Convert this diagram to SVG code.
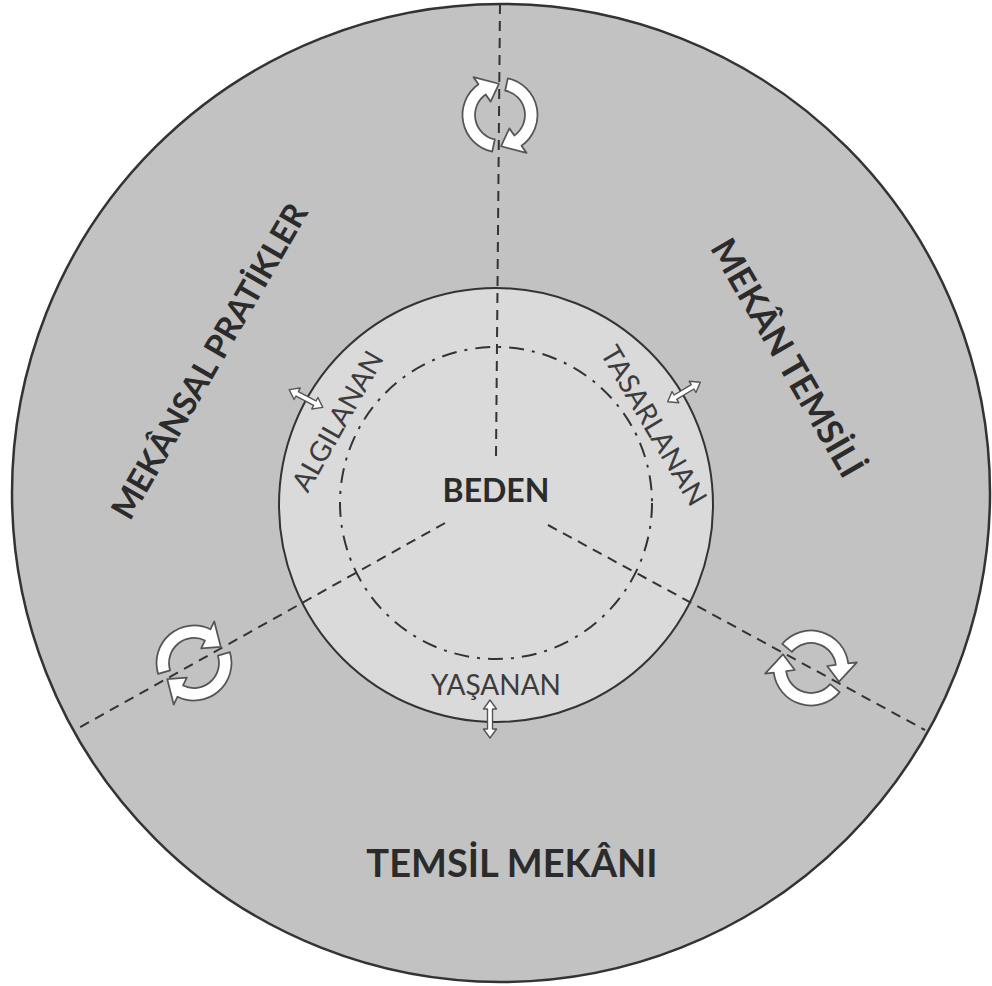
<svg xmlns="http://www.w3.org/2000/svg" xmlns:xlink="http://www.w3.org/1999/xlink" width="992" height="986" viewBox="0 0 992 986">
<style>
.bold{font-family:Lato,"Open Sans","DejaVu Sans",sans-serif;font-weight:700;fill:#2b2b2b}
.inner{font-family:Lato,"Open Sans","DejaVu Sans",sans-serif;font-weight:400;fill:#3c3c3c;font-size:28px}
.dash{fill:none;stroke:#333;stroke-width:2;stroke-dasharray:10 7}
.wa{fill:#fff;stroke:#555;stroke-width:1.4;stroke-linejoin:round}
</style>
<defs>
<g id="cyc">
<path class="wa" d="M -6.24 29.34 A 30 30 0 0 1 -17.21 -24.58 L -21.2 -30.3 L -0.87 -24.98 L -7.5 -10.7 L -11.47 -16.38 A 20 20 0 0 0 -4.16 19.56 Z"/>
<path class="wa" transform="rotate(180)" d="M -6.24 29.34 A 30 30 0 0 1 -17.21 -24.58 L -21.2 -30.3 L -0.87 -24.98 L -7.5 -10.7 L -11.47 -16.38 A 20 20 0 0 0 -4.16 19.56 Z"/>
</g>
<path id="dbl" class="wa" d="M -19 0 L -10 -6.5 L -10 -2.5 L 10 -2.5 L 10 -6.5 L 19 0 L 10 6.5 L 10 2.5 L -10 2.5 L -10 6.5 Z"/>
</defs>
<rect width="992" height="986" fill="#fff"/>
<g id="outer-circle">
<circle cx="501" cy="493" r="489" fill="#c2c2c2" stroke="#333" stroke-width="2.5"/>
</g>
<g id="inner-circle">
<circle cx="496" cy="505" r="217" fill="#dadada" stroke="#333" stroke-width="2"/>
<circle cx="496" cy="503" r="156" fill="none" stroke="#333" stroke-width="2" stroke-dasharray="15 8 3 8"/>
</g>
<g id="connectors">
<line class="dash" x1="500" y1="4" x2="496" y2="457"/>
<line class="dash" x1="445" y1="523" x2="75" y2="730"/>
<line class="dash" x1="548" y1="525" x2="925" y2="730"/>
</g>
<g id="cycle-icons">
<use xlink:href="#cyc" href="#cyc" transform="translate(500,115) scale(1.25)"/>
<use xlink:href="#cyc" href="#cyc" transform="translate(194,663) rotate(61) scale(1.25)"/>
<use xlink:href="#cyc" href="#cyc" transform="translate(811,668) rotate(118) scale(1.25)"/>
</g>
<g id="exchange-arrows">
<use xlink:href="#dbl" href="#dbl" transform="translate(306,398.5) rotate(28)"/>
<use xlink:href="#dbl" href="#dbl" transform="translate(684,392) rotate(-31)"/>
<use xlink:href="#dbl" href="#dbl" transform="translate(490,719) rotate(90)"/>
</g>
<g id="node-mekansal-pratikler">
<text class="bold" font-size="33" text-anchor="middle" transform="translate(209,361) rotate(-60)" x="0" y="12">MEKÂNSAL PRATİKLER</text>
</g>
<g id="node-mekan-temsili">
<text class="bold" font-size="35" text-anchor="middle" transform="translate(787,358) rotate(60)" x="0" y="12">MEKÂN TEMSİLİ</text>
</g>
<g id="node-temsil-mekani">
<text class="bold" font-size="38" text-anchor="middle" x="512" y="877">TEMSİL MEKÂNI</text>
</g>
<g id="node-beden">
<text class="bold" font-size="32" text-anchor="middle" x="496" y="502">BEDEN</text>
</g>
<g id="node-algilanan">
<text class="inner" text-anchor="middle" transform="translate(337.5,421) rotate(-60.5)" x="0" y="10">ALGILANAN</text>
</g>
<g id="node-tasarlanan">
<text class="inner" text-anchor="middle" transform="translate(654,425.5) rotate(59.5)" x="0" y="10">TASARLANAN</text>
</g>
<g id="node-yasanan">
<text class="inner" text-anchor="middle" x="496" y="695">YAŞANAN</text>
</g>
</svg>
